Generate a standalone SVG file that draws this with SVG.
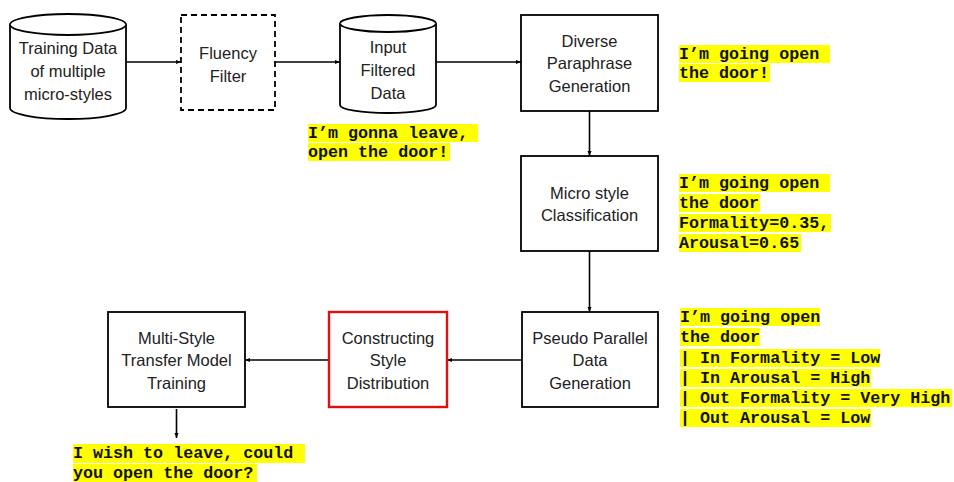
<svg xmlns="http://www.w3.org/2000/svg" width="954" height="482" viewBox="0 0 954 482">
<style>
.node{fill:#fff;stroke:#000;stroke-width:1.8}
.dash{stroke-dasharray:6 4}
.red{stroke:#e01010;stroke-width:2.4}
.lbl{font-family:"Liberation Sans",Arial,sans-serif;font-size:16.5px;fill:#222;text-anchor:middle}
.hl{fill:#ffff00}
.mono{font-family:"Liberation Mono","Courier New",monospace;font-size:16.7px;font-weight:bold;fill:#111;white-space:pre}
.edge{fill:none;stroke:#000;stroke-width:1.6;marker-end:url(#arr)}
</style>
<defs>
<marker id="arr" viewBox="0 0 10 10" refX="10" refY="5" markerWidth="5" markerHeight="5" orient="auto" markerUnits="userSpaceOnUse"><path d="M0,1 L10,5 L0,9 z" fill="#000"/></marker>
</defs>
<rect width="954" height="482" fill="#fff"/>
<g id="connectors">
<path class="edge" d="M127,62 H181"/>
<path class="edge" d="M275,62 H340"/>
<path class="edge" d="M436,62 H521"/>
<path class="edge" d="M589.5,111 V156"/>
<path class="edge" d="M589.5,251 V312"/>
<path class="edge" d="M522,360 H447"/>
<path class="edge" d="M329,360 H245"/>
<path class="edge" d="M176.5,409 V438"/>
</g>
<g id="training-data">
<path class="node" d="M10,24.5 V108 A58,11 0 0 0 126,108 V24.5 A58,10.5 0 0 0 10,24.5 Z"/>
<path class="node" d="M10,24.5 A58,10.5 0 0 0 126,24.5" fill="none"/>
<text class="lbl" x="68" y="54">Training Data</text>
<text class="lbl" x="68" y="77">of multiple</text>
<text class="lbl" x="68" y="100">micro-styles</text>
</g>
<g id="fluency-filter">
<rect class="node dash" x="181" y="15" width="94" height="95"/>
<text class="lbl" x="228" y="59">Fluency</text>
<text class="lbl" x="228" y="82">Filter</text>
</g>
<g id="input-filtered-data">
<path class="node" d="M340,23.5 V105 A48,8 0 0 0 436,105 V23.5 A48,8.5 0 0 0 340,23.5 Z"/>
<path class="node" d="M340,23.5 A48,8.5 0 0 0 436,23.5" fill="none"/>
<text class="lbl" x="388" y="53">Input</text>
<text class="lbl" x="388" y="76">Filtered</text>
<text class="lbl" x="388" y="99">Data</text>
</g>
<g id="diverse-paraphrase">
<rect class="node" x="521" y="15" width="137" height="96"/>
<text class="lbl" x="589.5" y="47">Diverse</text>
<text class="lbl" x="589.5" y="69">Paraphrase</text>
<text class="lbl" x="589.5" y="92">Generation</text>
</g>
<g id="micro-style">
<rect class="node" x="521" y="156" width="137" height="95"/>
<text class="lbl" x="589.5" y="199">Micro style</text>
<text class="lbl" x="589.5" y="221">Classification</text>
</g>
<g id="pseudo-parallel">
<rect class="node" x="522" y="312" width="136" height="95"/>
<text class="lbl" x="590" y="344">Pseudo Parallel</text>
<text class="lbl" x="590" y="366">Data</text>
<text class="lbl" x="590" y="389">Generation</text>
</g>
<g id="constructing-style">
<rect class="node red" x="329" y="312" width="118" height="95"/>
<text class="lbl" x="388" y="344">Constructing</text>
<text class="lbl" x="388" y="366">Style</text>
<text class="lbl" x="388" y="389">Distribution</text>
</g>
<g id="multi-style">
<rect class="node" x="108" y="312" width="137" height="95"/>
<text class="lbl" x="176.5" y="344">Multi-Style</text>
<text class="lbl" x="176.5" y="366">Transfer Model</text>
<text class="lbl" x="176.5" y="389">Training</text>
</g>
<g id="note-input">
<rect class="hl" x="308" y="124" width="170" height="18"/>
<rect class="hl" x="308" y="143" width="142" height="18"/>
<text class="mono" x="308" y="138">I’m gonna leave,</text>
<text class="mono" x="308" y="157">open the door!</text>
</g>
<g id="note-paraphrase">
<rect class="hl" x="679" y="45" width="151" height="18"/>
<rect class="hl" x="679" y="64" width="91" height="18"/>
<text class="mono" x="679" y="59">I’m going open</text>
<text class="mono" x="679" y="78">the door!</text>
</g>
<g id="note-classification">
<rect class="hl" x="679" y="174" width="151" height="18"/>
<rect class="hl" x="679" y="194" width="81" height="18"/>
<rect class="hl" x="679" y="214" width="152" height="18"/>
<rect class="hl" x="679" y="234" width="122" height="18"/>
<text class="mono" x="679" y="188">I’m going open</text>
<text class="mono" x="679" y="208">the door</text>
<text class="mono" x="679" y="228">Formality=0.35,</text>
<text class="mono" x="679" y="248">Arousal=0.65</text>
</g>
<g id="note-pseudo">
<rect class="hl" x="680" y="308" width="140" height="18"/>
<rect class="hl" x="680" y="328" width="80" height="18"/>
<rect class="hl" x="680" y="349" width="200" height="18"/>
<rect class="hl" x="680" y="369" width="191" height="18"/>
<rect class="hl" x="680" y="389" width="272" height="18"/>
<rect class="hl" x="680" y="409" width="191" height="18"/>
<text class="mono" x="680" y="322">I’m going open</text>
<text class="mono" x="680" y="342">the door</text>
<text class="mono" x="680" y="363">| In Formality = Low</text>
<text class="mono" x="680" y="383">| In Arousal = High</text>
<text class="mono" x="680" y="403">| Out Formality = Very High</text>
<text class="mono" x="680" y="423">| Out Arousal = Low</text>
</g>
<g id="note-output">
<rect class="hl" x="73" y="444" width="232" height="19"/>
<rect class="hl" x="73" y="464" width="184" height="18"/>
<text class="mono" x="73" y="458">I wish to leave, could</text>
<text class="mono" x="73" y="478">you open the door?</text>
</g>
</svg>
